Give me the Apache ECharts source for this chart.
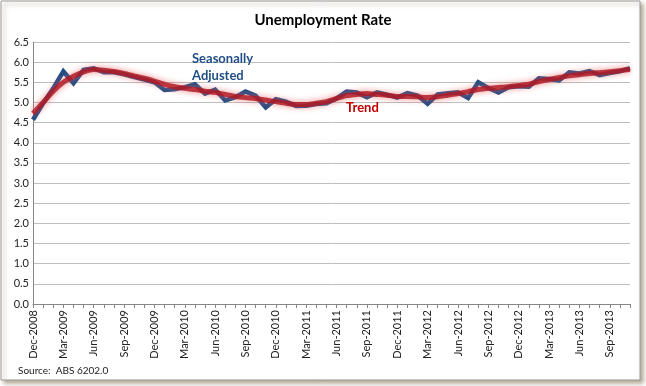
<!DOCTYPE html>
<html><head><meta charset="utf-8">
<script src="https://cdn.jsdelivr.net/npm/echarts@6/dist/echarts.min.js"></script>
<style>html,body{margin:0;padding:0;background:#fff;}#c{width:646px;height:386px;}</style>
</head><body><div id="c"></div>
<script>
var months = ["Dec-2008","Jan-2009","Feb-2009","Mar-2009","Apr-2009","May-2009","Jun-2009","Jul-2009","Aug-2009","Sep-2009","Oct-2009","Nov-2009",
"Dec-2009","Jan-2010","Feb-2010","Mar-2010","Apr-2010","May-2010","Jun-2010","Jul-2010","Aug-2010","Sep-2010","Oct-2010","Nov-2010",
"Dec-2010","Jan-2011","Feb-2011","Mar-2011","Apr-2011","May-2011","Jun-2011","Jul-2011","Aug-2011","Sep-2011","Oct-2011","Nov-2011",
"Dec-2011","Jan-2012","Feb-2012","Mar-2012","Apr-2012","May-2012","Jun-2012","Jul-2012","Aug-2012","Sep-2012","Oct-2012","Nov-2012",
"Dec-2012","Jan-2013","Feb-2013","Mar-2013","Apr-2013","May-2013","Jun-2013","Jul-2013","Aug-2013","Sep-2013","Oct-2013","Nov-2013"];
var seasonallyAdjusted = [4.57,4.98,5.35,5.77,5.48,5.81,5.85,5.75,5.75,5.70,5.63,5.57,
5.50,5.31,5.33,5.38,5.45,5.22,5.32,5.05,5.13,5.27,5.17,4.88,
5.08,5.02,4.91,4.92,4.96,4.98,5.10,5.27,5.25,5.13,5.25,5.19,
5.12,5.23,5.17,4.97,5.20,5.23,5.25,5.11,5.50,5.36,5.25,5.38,
5.40,5.39,5.60,5.58,5.55,5.75,5.72,5.78,5.68,5.73,5.77,5.85];
var trend = [4.73,5.00,5.28,5.50,5.65,5.76,5.82,5.80,5.77,5.72,5.66,5.60,
5.53,5.45,5.39,5.35,5.32,5.28,5.25,5.20,5.15,5.12,5.10,5.06,
5.02,4.98,4.95,4.95,4.98,5.02,5.10,5.17,5.20,5.22,5.20,5.18,
5.15,5.15,5.14,5.12,5.14,5.18,5.22,5.27,5.32,5.35,5.37,5.39,
5.42,5.45,5.52,5.57,5.62,5.66,5.69,5.72,5.74,5.76,5.79,5.82];
var yTicks = {min:0, max:6.5, step:0.5};

var font = 'Lato, "Open Sans", sans-serif';
var chart = echarts.init(document.getElementById('c'));
chart.setOption({
  animation:false,
  backgroundColor:'#fff',
  title:{text:'Unemployment Rate', left:'center', top:8,
    textStyle:{fontFamily:font, fontSize:15, fontWeight:'bold', color:'#000'}},
  grid:{left:33, right:16, top:42, bottom:82},
  xAxis:{type:'category', data:months, boundaryGap:false,
    axisLine:{lineStyle:{color:'#868686'}},
    axisTick:{interval:0, length:4, lineStyle:{color:'#868686'}},
    axisLabel:{interval:2, rotate:90, fontFamily:font, fontSize:11, color:'#222', margin:6},
    splitLine:{show:false}},
  yAxis:{type:'value', min:yTicks.min, max:yTicks.max, interval:yTicks.step,
    axisLine:{show:true, lineStyle:{color:'#868686'}},
    axisTick:{show:false},
    axisLabel:{fontFamily:font, fontSize:11, color:'#222', margin:4,
      formatter:function(v){return v.toFixed(1);}},
    splitLine:{lineStyle:{color:'#BEBEBE', width:1}}},
  series:[
    {name:'Seasonally Adjusted', type:'line', data:seasonallyAdjusted, symbol:'none',
      lineStyle:{color:'#1F4E86', width:4.5, join:'miter'}, z:2},
    {name:'Trend', type:'line', data:trend, symbol:'none', smooth:0.2,
      lineStyle:{color:'rgba(175,22,34,0.82)', width:5,
        shadowColor:'rgba(232,90,90,0.85)', shadowBlur:6}, z:3}
  ],
  graphic:[
    {type:'rect', shape:{x:1, y:1, width:639, height:379}, z:-10,
      style:{fill:'#fff', stroke:'#9a9a9a', lineWidth:1,
        shadowColor:'rgba(120,100,70,0.55)', shadowBlur:4, shadowOffsetX:3, shadowOffsetY:3}},
    {type:'text', left:192, top:50, z:10,
      style:{text:'Seasonally\nAdjusted', fill:'#1F4E86', font:'bold 13px '+font, lineHeight:17}},
    {type:'text', left:346, top:101, z:10,
      style:{text:'Trend', fill:'#C00000', font:'bold 13px '+font}},
    {type:'text', left:18, top:366, z:10,
      style:{text:'Source:  ABS 6202.0', fill:'#222', font:'10px '+font}}
  ]
});
</script></body></html>
